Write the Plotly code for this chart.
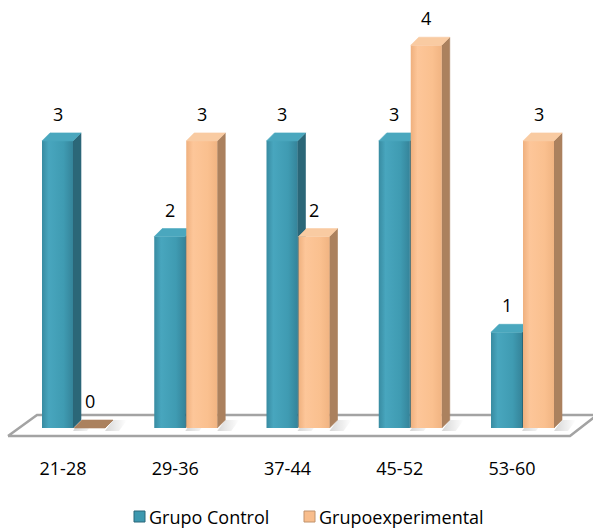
import plotly.graph_objects as go

# ---- data -------------------------------------------------------------
categories = ["21-28", "29-36", "37-44", "45-52", "53-60"]
grupo_control = [3, 2, 3, 3, 1]
grupo_experimental = [0, 3, 2, 4, 3]
series_names = ["Grupo Control", "Grupoexperimental"]

# ---- canvas / scale setup (pixel based so the 3D look is consistent) ---
W, H = 593, 529
M_B = 73
PLOT_H = H - M_B
X0_PX = 63.0       # pixel x of first category centre
CAT_PX = 112.25    # pixels between category centres
ZERO_PX = 428.0    # pixel y of value 0
UNIT_PX = 95.7     # pixels per unit of value
FONT = "Open Sans"
FONT_SIZE = 18

x_range = [-X0_PX / CAT_PX, (W - X0_PX) / CAT_PX]
y_min = -(PLOT_H - ZERO_PX) / UNIT_PX
y_range = [y_min, y_min + PLOT_H / UNIT_PX]


def ux(px):
    return px / CAT_PX


def uy(px):
    return px / UNIT_PX


def px_to_data(px, py):
    return (px - X0_PX) / CAT_PX, (ZERO_PX - py) / UNIT_PX


def paper_x(px):
    return px / W


def paper_y(py):
    return (PLOT_H - py) / PLOT_H


BAR_W = 31          # front face width (px)
DEPTH_X, DEPTH_Y = 8, 8   # bar depth offset (px)
OFFSETS = [-21, 11]       # front-left edge relative to category centre (px)

STYLES = [
    dict(front=[[0, "#388ba1"], [0.22, "#48a6be"], [0.7, "#3f9bb2"], [1, "#35849a"]],
         side="#2b6778", top="#4aa7be", legend="#3d98af", legend_line="#2b6778"),
    dict(front=[[0, "#efb07e"], [0.22, "#fdc699"], [0.7, "#fac08f"], [1, "#f1b482"]],
         side="#ab815e", top="#f9cba2", legend="#f8bd8c", legend_line="#c0926c"),
]

fig = go.Figure()


def poly(xs, ys, **kw):
    fig.add_trace(go.Scatter(
        x=list(xs) + [xs[0]], y=list(ys) + [ys[0]], mode="lines", fill="toself",
        hoverinfo="skip", showlegend=False, **kw))


# ---- floor ------------------------------------------------------------
floor_px = [(8, 436), (570, 436), (597, 415), (37, 415)]
fx, fy = zip(*[px_to_data(a, b) for a, b in floor_px])
poly(fx, fy, fillcolor="white", line=dict(color="#a3a3a3", width=2.5))

# ---- soft shadows on the floor ---------------------------------------
for s, values in enumerate([grupo_control, grupo_experimental]):
    for i, v in enumerate(values):
        xl = i + ux(OFFSETS[s])
        xr = xl + ux(BAR_W)
        xs = [xr, xr + ux(14), xr + ux(14 + DEPTH_X), xr + ux(DEPTH_X)]
        ys = [-uy(3), -uy(3), uy(DEPTH_Y), uy(DEPTH_Y)]
        poly(xs, ys, line=dict(width=0),
             fillgradient=dict(type="horizontal",
                               colorscale=[[0, "rgba(0,0,0,0.16)"], [1, "rgba(0,0,0,0)"]]))

# ---- 3D bars ------------------------------------------------------------
for i in range(len(categories)):
    for s, values in enumerate([grupo_control, grupo_experimental]):
        v = values[i]
        st = STYLES[s]
        xl = i + ux(OFFSETS[s])
        xr = xl + ux(BAR_W)
        ddx, ddy = ux(DEPTH_X), uy(DEPTH_Y)
        # side face
        poly([xr, xr + ddx, xr + ddx, xr], [0, ddy, v + ddy, v],
             fillcolor=st["side"], line=dict(color=st["side"], width=0.6))
        # front face
        if v > 0:
            poly([xl, xr, xr, xl], [0, 0, v, v], line=dict(width=0),
                 fillgradient=dict(type="horizontal", colorscale=st["front"]))
        # top face
        top_col = st["top"] if v > 0 else st["side"]
        poly([xl, xr, xr + ddx, xl + ddx], [v, v, v + ddy, v + ddy],
             fillcolor=top_col, line=dict(color=top_col, width=0.6))
        # value label
        fig.add_annotation(x=(xl + xr) / 2, y=v, text=str(v), showarrow=False,
                           yanchor="bottom", yshift=13,
                           font=dict(family=FONT, size=FONT_SIZE, color="#000000"))

# ---- legend (drawn as shapes + text) -----------------------------------
legend_items = [(134, 147), (304, 317)]
for s, (sq_x, tx) in enumerate(legend_items):
    st = STYLES[s]
    fig.add_shape(type="rect", xref="paper", yref="paper",
                  x0=paper_x(sq_x), x1=paper_x(sq_x + 11),
                  y0=paper_y(522), y1=paper_y(511),
                  fillcolor=st["legend"], line=dict(color=st["legend_line"], width=1))
    fig.add_annotation(xref="paper", yref="paper", x=paper_x(tx), y=paper_y(517),
                       xanchor="left", yanchor="middle", text=series_names[s],
                       showarrow=False,
                       font=dict(family=FONT, size=FONT_SIZE, color="#000000"))

fig.update_layout(
    width=W, height=H,
    margin=dict(l=0, r=0, t=0, b=M_B),
    paper_bgcolor="white", plot_bgcolor="white",
    showlegend=False,
    xaxis=dict(range=x_range, tickmode="array", tickvals=list(range(len(categories))),
               ticktext=categories, showgrid=False, zeroline=False, showline=False,
               ticks="", tickfont=dict(family=FONT, size=FONT_SIZE, color="#000000"),
               fixedrange=True),
    yaxis=dict(range=y_range, visible=False, fixedrange=True),
)

fig.write_html("out.html")
